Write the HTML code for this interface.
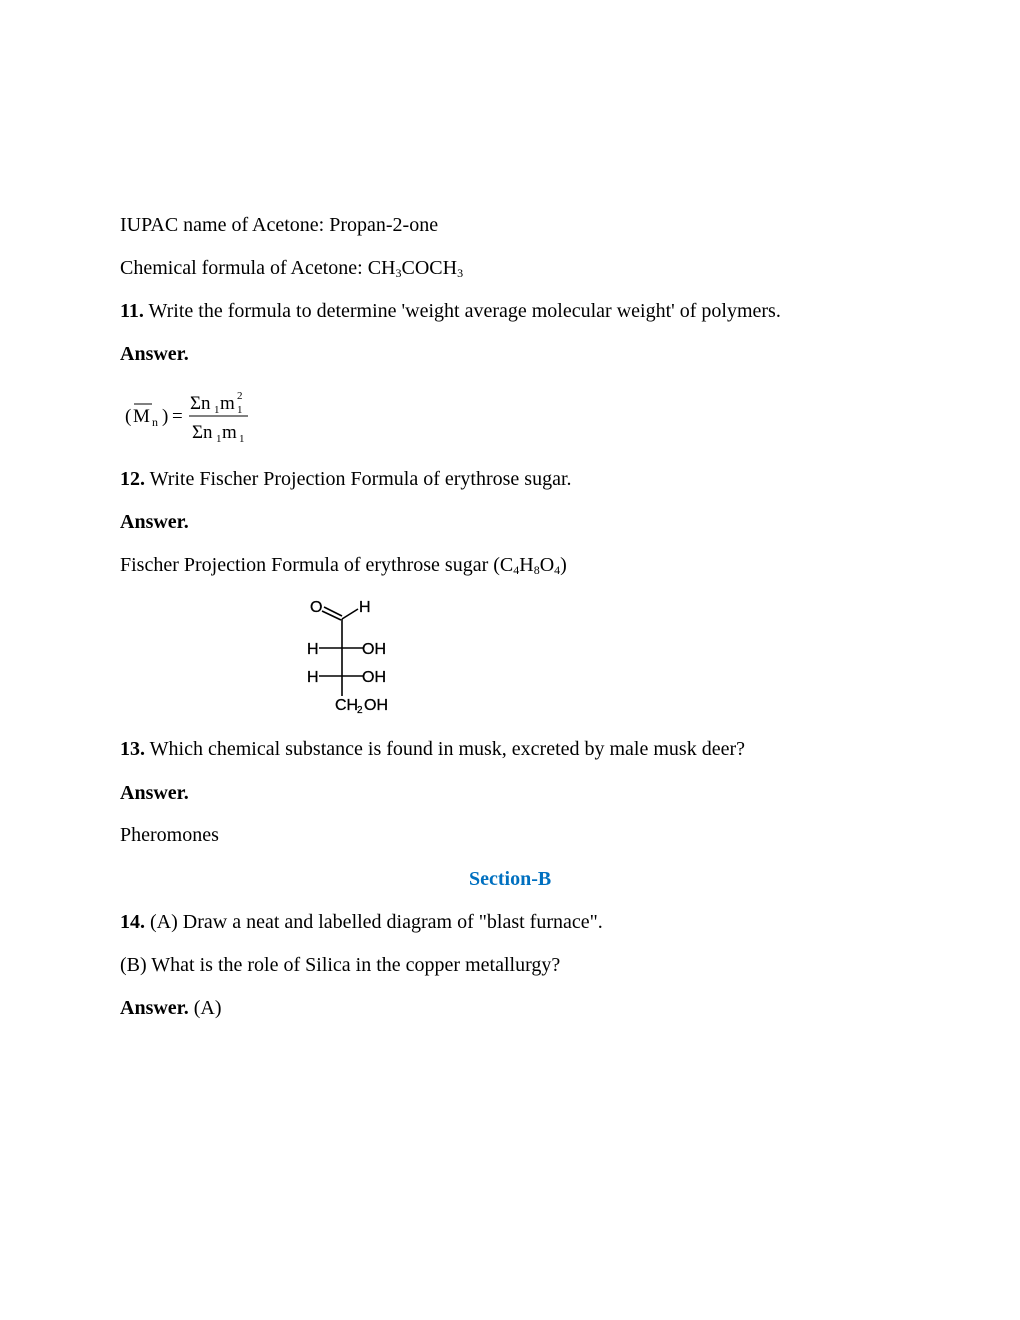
<!DOCTYPE html>
<html><head><style>
body{margin:0;width:1020px;height:1320px;background:#fff;position:relative;font-family:"Liberation Serif",serif;font-size:20px;color:#000}
.t{position:absolute;left:120px;white-space:nowrap;line-height:22px}
sub{font-size:12px;vertical-align:-3px;line-height:0}
</style></head><body>
<div class="t" style="top:214px">IUPAC name of Acetone: Propan-2-one</div>
<div class="t" style="top:257px">Chemical formula of Acetone: CH<sub>3</sub>COCH<sub>3</sub></div>
<div class="t" style="top:300px"><b>11.</b> Write the formula to determine 'weight average molecular weight' of polymers.</div>
<div class="t" style="top:343px"><b>Answer.</b></div>
<svg style="position:absolute;left:0;top:0" width="1020" height="1320" font-family="Liberation Serif, serif">
<text x="125" y="422" font-size="19">(</text>
<line x1="134" y1="404" x2="152" y2="404" stroke="#000" stroke-width="1"/>
<text x="133" y="422" font-size="19">M</text>
<text x="152" y="426" font-size="12">n</text>
<text x="162" y="422" font-size="19">)</text>
<text x="172" y="422" font-size="19">=</text>
<text x="190" y="409" font-size="19">Σn</text>
<text x="214" y="413" font-size="11">1</text>
<text x="220" y="409" font-size="19">m</text>
<text x="237" y="413" font-size="11">1</text>
<text x="237" y="399" font-size="11">2</text>
<line x1="189" y1="416" x2="248" y2="416" stroke="#000" stroke-width="1"/>
<text x="192" y="438" font-size="19">Σn</text>
<text x="216" y="442" font-size="11">1</text>
<text x="222" y="438" font-size="19">m</text>
<text x="239" y="442" font-size="11">1</text>
<g stroke="#000" stroke-width="1.6" fill="none">
<line x1="342" y1="619" x2="342" y2="696"/>
<line x1="322" y1="611" x2="341" y2="620"/>
<line x1="324" y1="607" x2="342" y2="616"/>
<line x1="342" y1="619" x2="358" y2="609"/>
<line x1="319" y1="648" x2="363" y2="648"/>
<line x1="319" y1="676" x2="363" y2="676"/>
</g>
<g font-family="Liberation Sans, sans-serif" font-size="16" fill="#000" stroke="#000" stroke-width="0.3">
<text x="310" y="612">O</text><text x="359" y="612">H</text>
<text x="307" y="654">H</text><text x="362" y="654">OH</text>
<text x="307" y="682">H</text><text x="362" y="682">OH</text>
<text x="335" y="710">CH</text><text x="357" y="713" font-size="10">2</text><text x="364" y="710">OH</text>
</g>
</svg>
<div class="t" style="top:468px"><b>12.</b> Write Fischer Projection Formula of erythrose sugar.</div>
<div class="t" style="top:511px"><b>Answer.</b></div>
<div class="t" style="top:554px">Fischer Projection Formula of erythrose sugar (C<sub>4</sub>H<sub>8</sub>O<sub>4</sub>)</div>
<div class="t" style="top:738px"><b>13.</b> Which chemical substance is found in musk, excreted by male musk deer?</div>
<div class="t" style="top:782px"><b>Answer.</b></div>
<div class="t" style="top:824px">Pheromones</div>
<div class="t" style="top:868px;left:469px;color:#0070c0"><b>Section-B</b></div>
<div class="t" style="top:911px"><b>14.</b> (A) Draw a neat and labelled diagram of "blast furnace".</div>
<div class="t" style="top:954px">(B) What is the role of Silica in the copper metallurgy?</div>
<div class="t" style="top:997px"><b>Answer.</b> (A)</div>
</body></html>
